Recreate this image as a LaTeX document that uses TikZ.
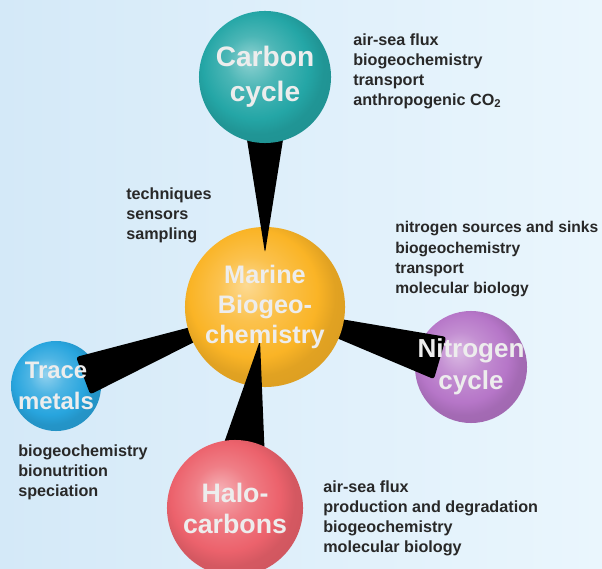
\documentclass[tikz,border=0pt]{standalone}
\usepackage{fontspec}
\setmainfont{Liberation Sans}
\usetikzlibrary{calc}
\definecolor{bgleft}{RGB}{212,233,248}
\definecolor{bgright}{RGB}{234,246,253}
\definecolor{textgray}{RGB}{40,40,40}
\definecolor{carboncol}{RGB}{36,166,166}
\definecolor{marinecol}{RGB}{250,180,38}
\definecolor{nitrocol}{RGB}{182,118,200}
\definecolor{tracecol}{RGB}{40,165,222}
\definecolor{halocol}{RGB}{236,98,108}
\colorlet{spherecol}{black}
\pgfdeclareradialshading[spherecol]{glossy}{\pgfpoint{-6bp}{7bp}}{color(0bp)=(spherecol!50!white); color(10bp)=(spherecol!82!white); color(20bp)=(spherecol); color(25bp)=(spherecol!90!black); color(50bp)=(spherecol!80!black)}
\tikzset{
  sphere/.style={circle, inner sep=0pt, /utils/exec={\colorlet{spherecol}{#1}}, shading=glossy},
  spoke/.style={fill=black, rounded corners=2pt},
  lbl/.style={text=white!93!black, align=center, inner sep=0pt},
  info/.style={anchor=north west, align=left, inner sep=0pt, text=textgray,
    font=\fontsize{11.5}{14.2}\selectfont\bfseries}
}
\begin{document}
\begin{tikzpicture}[x=0.025cm,y=-0.025cm]
  \useasboundingbox (0,0) rectangle (602,569);
  \clip (0,0) rectangle (602,569);
  \shade[left color=bgleft, right color=bgright] (0,0) rectangle (602,569);

  \node[sphere=nitrocol, minimum size=2.8cm] (nitrogen) at (471,367) {};
  \node[sphere=tracecol, minimum size=2.25cm] (trace) at (56,386) {};
  \coordinate (marinec) at (265,307);

  \path ($(marinec)!0.33!(nitrogen)$) coordinate (nt) ($(marinec)!0.85!(nitrogen)$) coordinate (nb);
  \fill[spoke] ($(nt)!0.225cm!90:(nitrogen)$) -- ($(nb)!0.55cm!-90:(marinec)$) -- ($(nb)!0.55cm!90:(marinec)$) -- ($(nt)!0.225cm!-90:(nitrogen)$) -- cycle;
  \path ($(marinec)!0.32!(trace)$) coordinate (tt) ($(marinec)!0.87!(trace)$) coordinate (tb);
  \fill[spoke] ($(tt)!0.175cm!90:(trace)$) -- ($(tb)!0.5cm!-90:(marinec)$) -- ($(tb)!0.5cm!90:(marinec)$) -- ($(tt)!0.175cm!-90:(trace)$) -- cycle;

  \node[sphere=marinecol, minimum size=4cm] (marine) at (marinec) {};
  \coordinate (carbonc) at (265,77);
  \coordinate (haloc) at (235,508);

  \path ($(marine)!0.235!(carbonc)$) coordinate (ct) ($(marine)!0.76!(carbonc)$) coordinate (cb);
  \fill[spoke] (ct) -- ($(cb)!0.48cm!-90:(marine)$) -- ($(cb)!0.48cm!90:(marine)$) -- cycle;
  \path ($(marine)!0.167!(haloc)$) coordinate (ht) ($(marine)!0.7!(haloc)$) coordinate (hb);
  \fill[spoke] (ht) -- ($(hb)!0.52cm!-90:(marine)$) -- ($(hb)!0.52cm!90:(marine)$) -- cycle;

  \node[sphere=carboncol, minimum size=3.3cm] (carbon) at (carbonc) {};
  \node[sphere=halocol, minimum size=3.4cm] (halo) at (haloc) {};

  \node[lbl, font=\fontsize{20}{24.9}\selectfont\bfseries] (carbonlbl) at (carbon) {Carbon\\cycle};
  \node[lbl, font=\fontsize{18}{21.3}\selectfont\bfseries] (marinelbl) at (marine) {Marine\\Biogeo-\\chemistry};
  \node[lbl, font=\fontsize{18.5}{22.8}\selectfont\bfseries] (nitrogenlbl) at (nitrogen) {Nitrogen\\cycle};
  \node[lbl, font=\fontsize{17}{22}\selectfont\bfseries] (tracelbl) at (trace) {Trace\\metals};
  \node[lbl, font=\fontsize{19}{22}\selectfont\bfseries] (halolbl) at (halo) {Halo-\\carbons};

  \node[info] (carboninfo) at (353,33.4) {air-sea flux\\biogeochemistry\\transport\\anthropogenic CO\textsubscript{2}};
  \node[info] (marineinfo) at (126,188) {techniques\\sensors\\sampling};
  \node[info, font=\fontsize{11.1}{14.4}\selectfont\bfseries] (nitrogeninfo) at (395,221.4) {nitrogen sources and sinks\\biogeochemistry\\transport\\molecular biology};
  \node[info] (traceinfo) at (18,444.4) {biogeochemistry\\bionutrition\\speciation};
  \node[info] (haloinfo) at (323,480.4) {air-sea flux\\production and degradation\\biogeochemistry\\molecular biology};
\end{tikzpicture}
\end{document}
